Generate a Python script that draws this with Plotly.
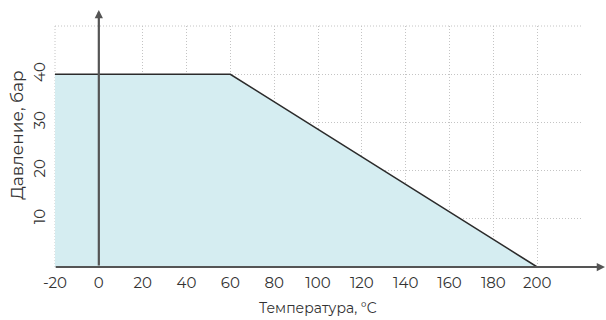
import plotly.graph_objects as go

temps = [-20, 60, 200]
pressure = [40, 40, 0]

x_ticks = [-20, 0, 20, 40, 60, 80, 100, 120, 140, 160, 180, 200, 220]
x_labels = ["-20", "0", "20", "40", "60", "80", "100", "120", "140", "160", "180", "200", ""]
y_ticks = [0, 10, 20, 30, 40, 50]
y_labels = ["", "10", "20", "30", "40", ""]
x_title = "Температура, °C"
y_title = "Давление, бар"

font_family = "Montserrat, Inter, sans-serif"
text_color = "#333333"
axis_color = "#555555"
grid_color = "#c4c4c4"
grid_dash = "1px,2px"

fig = go.Figure()
fig.add_trace(go.Scatter(
    x=temps, y=pressure, mode="lines", fill="tozeroy",
    fillcolor="#d5edf1", line=dict(color="#2b2b2b", width=1.6),
    hoverinfo="skip", showlegend=False, cliponaxis=False,
))

# border grid lines at the top and left edges of the grid
fig.add_shape(type="line", xref="paper", yref="paper", x0=0, x1=1, y0=1, y1=1,
              line=dict(color=grid_color, width=1, dash=grid_dash), layer="below")
fig.add_shape(type="line", xref="paper", yref="paper", x0=0, x1=0, y0=0, y1=1,
              line=dict(color=grid_color, width=1, dash=grid_dash), layer="below")

# axis arrows (x axis along y=0, y axis along x=0)
fig.add_annotation(x=1.046, y=0, xref="paper", yref="y", axref="pixel", ayref="pixel",
                   ax=-551, ay=0, showarrow=True, arrowhead=2, arrowsize=0.75, arrowwidth=2.2,
                   arrowcolor=axis_color, text="")
fig.add_annotation(x=0, y=1.066, xref="x", yref="paper", axref="pixel", ayref="pixel",
                   ax=0, ay=257, showarrow=True, arrowhead=2, arrowsize=0.75, arrowwidth=2.2,
                   arrowcolor=axis_color, text="")

# axis titles
fig.add_annotation(text=x_title, xref="paper", yref="paper", x=0.5, y=-0.17,
                   xanchor="center", yanchor="middle", showarrow=False,
                   font=dict(size=14, color=text_color))
fig.add_annotation(text=y_title, xref="paper", yref="paper", x=-0.072, y=0.545,
                   xanchor="center", yanchor="middle", showarrow=False, textangle=-90,
                   font=dict(size=17, color=text_color))

fig.update_layout(
    width=606, height=320,
    margin=dict(l=55, r=25, t=26, b=53),
    paper_bgcolor="white", plot_bgcolor="white",
    font=dict(family=font_family, size=15, color=text_color),
    xaxis=dict(range=[-20, 220], tickvals=x_ticks, ticktext=x_labels, automargin=False,
               showgrid=True, gridcolor=grid_color, griddash=grid_dash, gridwidth=1,
               zeroline=False, showline=False, ticks="", ticklabelstandoff=5),
    yaxis=dict(range=[0, 50], tickvals=y_ticks, ticktext=y_labels, tickangle=-90, automargin=False,
               showgrid=True, gridcolor=grid_color, griddash=grid_dash, gridwidth=1,
               zeroline=False, showline=False, ticks="", ticklabelstandoff=6),
)

fig.write_html("out.html", config={"displayModeBar": False},
               post_script="document.body.style.margin='0';")
